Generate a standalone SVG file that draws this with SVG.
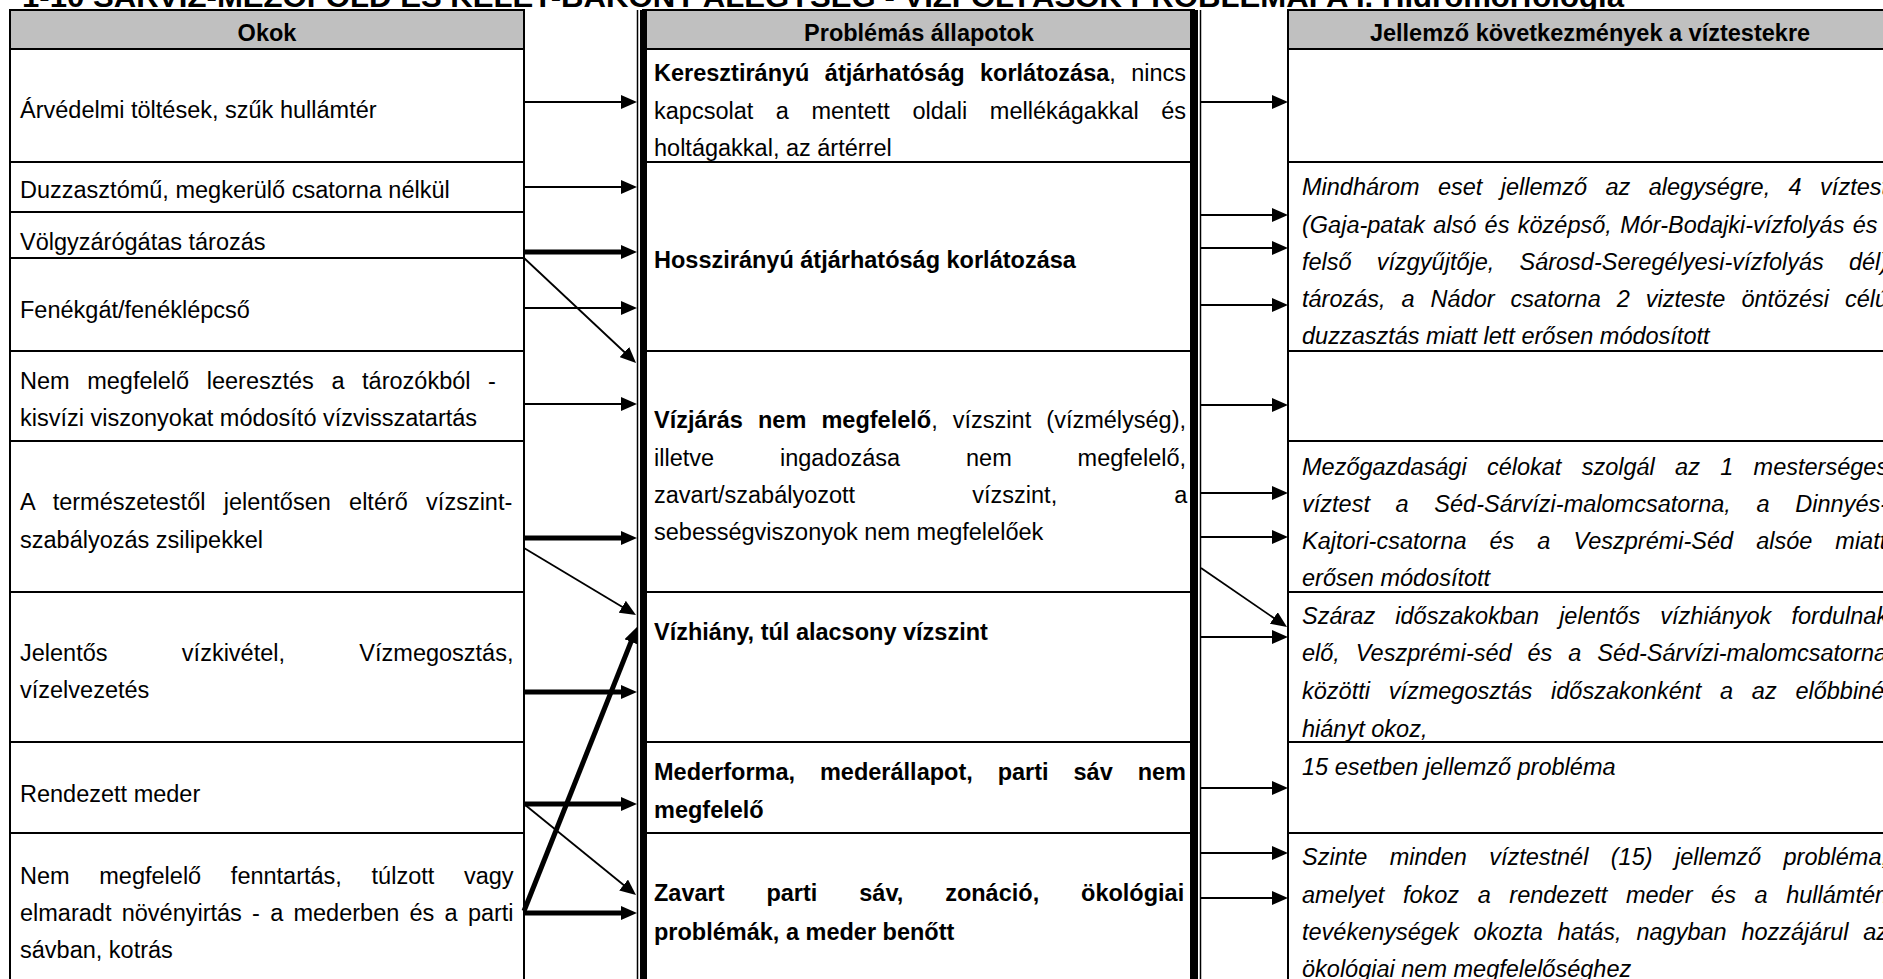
<svg xmlns="http://www.w3.org/2000/svg" width="1883" height="979" viewBox="0 0 1883 979">
<style>
.t{font-family:"Liberation Sans",Arial,sans-serif;font-size:23.5px;fill:#000}
.b{font-weight:bold}
.i{font-style:italic}
.hd{font-weight:bold;text-anchor:middle}
.cell{fill:#fff;stroke:#000;stroke-width:2}
.head{fill:#c0c0c0;stroke:#000;stroke-width:2}
.bar{fill:#000}
.thin{stroke:#000;stroke-width:1.5}
.cn{stroke:#000;stroke-width:1.8;fill:none;marker-end:url(#ah)}
.ck{stroke-width:5}
</style>
<defs>
<marker id="ah" viewBox="0 0 16 14" markerWidth="16" markerHeight="14" refX="8" refY="7" orient="auto" markerUnits="userSpaceOnUse"><path d="M0,0L16,7L0,14z" fill="#000"/></marker>
</defs>
<rect width="1883" height="979" fill="#fff"/>
<text class="t b" x="22" y="7" style="font-size:30px" textLength="1602" lengthAdjust="spacingAndGlyphs">1-10 SÁRVÍZ-MEZŐFÖLD ÉS KELET-BAKONY ALEGYSÉG - VÍZFOLYÁSOK PROBLÉMAFA I. Hidromorfológia</text>

<g id="okok">
<g id="okok-fejlec"><rect class="head" x="10" y="10" width="514" height="39"/><text class="t hd" x="267" y="41">Okok</text></g>
<g id="ok-arvedelmi"><rect class="cell" x="10" y="49" width="514" height="113"/><text class="t" x="20" y="118">Árvédelmi töltések, szűk hullámtér</text></g>
<g id="ok-duzzaszto"><rect class="cell" x="10" y="162" width="514" height="50"/><text class="t" x="20" y="198">Duzzasztómű, megkerülő csatorna nélkül</text></g>
<g id="ok-volgyzaro"><rect class="cell" x="10" y="212" width="514" height="46"/><text class="t" x="20" y="250">Völgyzárógátas tározás</text></g>
<g id="ok-fenekgat"><rect class="cell" x="10" y="258" width="514" height="93"/><text class="t" x="20" y="318">Fenékgát/fenéklépcső</text></g>
<g id="ok-leeresztes"><rect class="cell" x="10" y="351" width="514" height="90"/><text class="t" x="20" y="389" style="word-spacing:11.07px">Nem megfelelő leeresztés a tározókból -</text><text class="t" x="20" y="426">kisvízi viszonyokat módosító vízvisszatartás</text></g>
<g id="ok-vizszintszab"><rect class="cell" x="10" y="441" width="514" height="151"/><text class="t" x="20" y="510" style="word-spacing:11.72px">A természetestől jelentősen eltérő vízszint-</text><text class="t" x="20" y="548">szabályozás zsilipekkel</text></g>
<g id="ok-vizkivetel"><rect class="cell" x="10" y="592" width="514" height="150"/><text class="t" x="20" y="661" style="word-spacing:67.8px">Jelentős vízkivétel, Vízmegosztás,</text><text class="t" x="20" y="698">vízelvezetés</text></g>
<g id="ok-rendezett"><rect class="cell" x="10" y="742" width="514" height="91"/><text class="t" x="20" y="802">Rendezett meder</text></g>
<g id="ok-fenntartas"><rect class="cell" x="10" y="833" width="514" height="170"/><text class="t" x="20" y="884" style="word-spacing:23.14px">Nem megfelelő fenntartás, túlzott vagy</text><text class="t" x="20" y="921" style="word-spacing:3.71px">elmaradt növényirtás - a mederben és a parti</text><text class="t" x="20" y="958">sávban, kotrás</text></g>
</g>

<g id="allapotok">
<g id="all-fejlec"><rect class="head" x="643" y="10" width="551" height="39"/><text class="t hd" x="919" y="41">Problémás állapotok</text></g>
<g id="all-kereszt"><rect class="cell" x="643" y="49" width="551" height="113"/><text class="t" x="654" y="81" style="word-spacing:8.87px"><tspan class="b">Keresztirányú átjárhatóság korlátozása</tspan>, nincs</text><text class="t" x="654" y="119" style="word-spacing:16.03px">kapcsolat a mentett oldali mellékágakkal és</text><text class="t" x="654" y="156">holtágakkal, az ártérrel</text></g>
<g id="all-hossz"><rect class="cell" x="643" y="162" width="551" height="189"/><text class="t b" x="654" y="268">Hosszirányú átjárhatóság korlátozása</text></g>
<g id="all-vizjaras"><rect class="cell" x="643" y="351" width="551" height="241"/><text class="t" x="654" y="428" style="word-spacing:8.62px"><tspan class="b">Vízjárás nem megfelelő</tspan>, vízszint (vízmélység),</text><text class="t" x="654" y="466" style="word-spacing:59.34px">illetve ingadozása nem megfelelő,</text><text class="t" x="654" y="503" style="word-spacing:110.6px">zavart/szabályozott vízszint, a</text><text class="t" x="654" y="540">sebességviszonyok nem megfelelőek</text></g>
<g id="all-vizhiany"><rect class="cell" x="643" y="592" width="551" height="150"/><text class="t b" x="654" y="640">Vízhiány, túl alacsony vízszint</text></g>
<g id="all-mederforma"><rect class="cell" x="643" y="742" width="551" height="91"/><text class="t b" x="654" y="780" style="word-spacing:18.4px">Mederforma, mederállapot, parti sáv nem</text><text class="t b" x="654" y="818">megfelelő</text></g>
<g id="all-zavart"><rect class="cell" x="643" y="833" width="551" height="170"/><text class="t b" x="654" y="901" style="word-spacing:35.37px">Zavart parti sáv, zonáció, ökológiai</text><text class="t b" x="654" y="940">problémák, a meder benőtt</text></g>
<rect class="bar" x="640" y="10" width="7" height="993"/>
<rect class="bar" x="1190" y="10" width="8" height="993"/>
<line class="thin" x1="637.5" y1="10" x2="637.5" y2="1003"/>
<line class="thin" x1="1200.5" y1="10" x2="1200.5" y2="1003"/>
</g>

<g id="kovetkezmenyek">
<g id="kov-fejlec"><rect class="head" x="1288" y="10" width="700" height="39"/><text class="t hd" x="1590" y="41">Jellemző következmények a víztestekre</text></g>
<g id="kov-1"><rect class="cell" x="1288" y="49" width="700" height="113"/></g>
<g id="kov-2"><rect class="cell" x="1288" y="162" width="700" height="189"/><text class="t i" x="1302" y="195" style="word-spacing:11.9px">Mindhárom eset jellemző az alegységre, 4 víztest</text><text class="t i" x="1302" y="233" style="word-spacing:1.83px">(Gaja-patak alsó és középső, Mór-Bodajki-vízfolyás és</text><text class="t i" x="1302" y="270" style="word-spacing:18.6px">felső vízgyűjtője, Sárosd-Seregélyesi-vízfolyás dél)</text><text class="t i" x="1302" y="307" style="word-spacing:9.45px">tározás, a Nádor csatorna 2 vizteste öntözési célú</text><text class="t i" x="1302" y="344">duzzasztás miatt lett erősen módosított</text></g>
<g id="kov-3"><rect class="cell" x="1288" y="351" width="700" height="90"/></g>
<g id="kov-4"><rect class="cell" x="1288" y="441" width="700" height="151"/><text class="t i" x="1302" y="475" style="word-spacing:13.77px">Mezőgazdasági célokat szolgál az 1 mesterséges</text><text class="t i" x="1302" y="512" style="word-spacing:19.17px">víztest a Séd-Sárvízi-malomcsatorna, a Dinnyés-</text><text class="t i" x="1302" y="549" style="word-spacing:16.45px">Kajtori-csatorna és a Veszprémi-Séd alsóe miatt</text><text class="t i" x="1302" y="586">erősen módosított</text></g>
<g id="kov-5"><rect class="cell" x="1288" y="592" width="700" height="150"/><text class="t i" x="1302" y="624" style="word-spacing:13.62px">Száraz időszakokban jelentős vízhiányok fordulnak</text><text class="t i" x="1302" y="661" style="word-spacing:9.37px">elő, Veszprémi-séd és a Séd-Sárvízi-malomcsatorna</text><text class="t i" x="1302" y="699" style="word-spacing:12.21px">közötti vízmegosztás időszakonként a az előbbinél</text><text class="t i" x="1302" y="737">hiányt okoz,</text></g>
<g id="kov-6"><rect class="cell" x="1288" y="742" width="700" height="91"/><text class="t i" x="1302" y="775">15 esetben jellemző probléma</text></g>
<g id="kov-7"><rect class="cell" x="1288" y="833" width="700" height="170"/><text class="t i" x="1302" y="865" style="word-spacing:15.85px">Szinte minden víztestnél (15) jellemző probléma,</text><text class="t i" x="1302" y="903" style="word-spacing:12.07px">amelyet fokoz a rendezett meder és a hullámtéri</text><text class="t i" x="1302" y="940" style="word-spacing:8.27px">tevékenységek okozta hatás, nagyban hozzájárul az</text><text class="t i" x="1302" y="977">ökológiai nem megfelelőséghez</text></g>
</g>

<g id="connectors">
<line class="cn" x1="524" y1="102" x2="629" y2="102"/>
<line class="cn" x1="524" y1="187" x2="629" y2="187"/>
<line class="cn ck" x1="524" y1="252" x2="629" y2="252"/>
<line class="cn" x1="524" y1="308" x2="629" y2="308"/>
<line class="cn" x1="524" y1="258" x2="630.2" y2="357.5"/>
<line class="cn" x1="524" y1="404" x2="629" y2="404"/>
<line class="cn ck" x1="524" y1="538" x2="629" y2="538"/>
<line class="cn" x1="524" y1="548" x2="629.1" y2="610.9"/>
<line class="cn ck" x1="524" y1="692" x2="629" y2="692"/>
<line class="cn ck" x1="524" y1="804" x2="629" y2="804"/>
<line class="cn" x1="524" y1="804" x2="629.8" y2="890"/>
<line class="cn ck" x1="524" y1="913" x2="629" y2="913"/>
<line class="cn ck" x1="524" y1="911" x2="634" y2="634.4"/>
<line class="cn" x1="1200" y1="102" x2="1280" y2="102"/>
<line class="cn" x1="1200" y1="215" x2="1280" y2="215"/>
<line class="cn" x1="1200" y1="248" x2="1280" y2="248"/>
<line class="cn" x1="1200" y1="305" x2="1280" y2="305"/>
<line class="cn" x1="1200" y1="405" x2="1280" y2="405"/>
<line class="cn" x1="1200" y1="493" x2="1280" y2="493"/>
<line class="cn" x1="1200" y1="537" x2="1280" y2="537"/>
<line class="cn" x1="1201" y1="568" x2="1280.4" y2="622.5"/>
<line class="cn" x1="1200" y1="637" x2="1280" y2="637"/>
<line class="cn" x1="1200" y1="788" x2="1280" y2="788"/>
<line class="cn" x1="1200" y1="853" x2="1280" y2="853"/>
<line class="cn" x1="1200" y1="898" x2="1280" y2="898"/>
</g>
</svg>
